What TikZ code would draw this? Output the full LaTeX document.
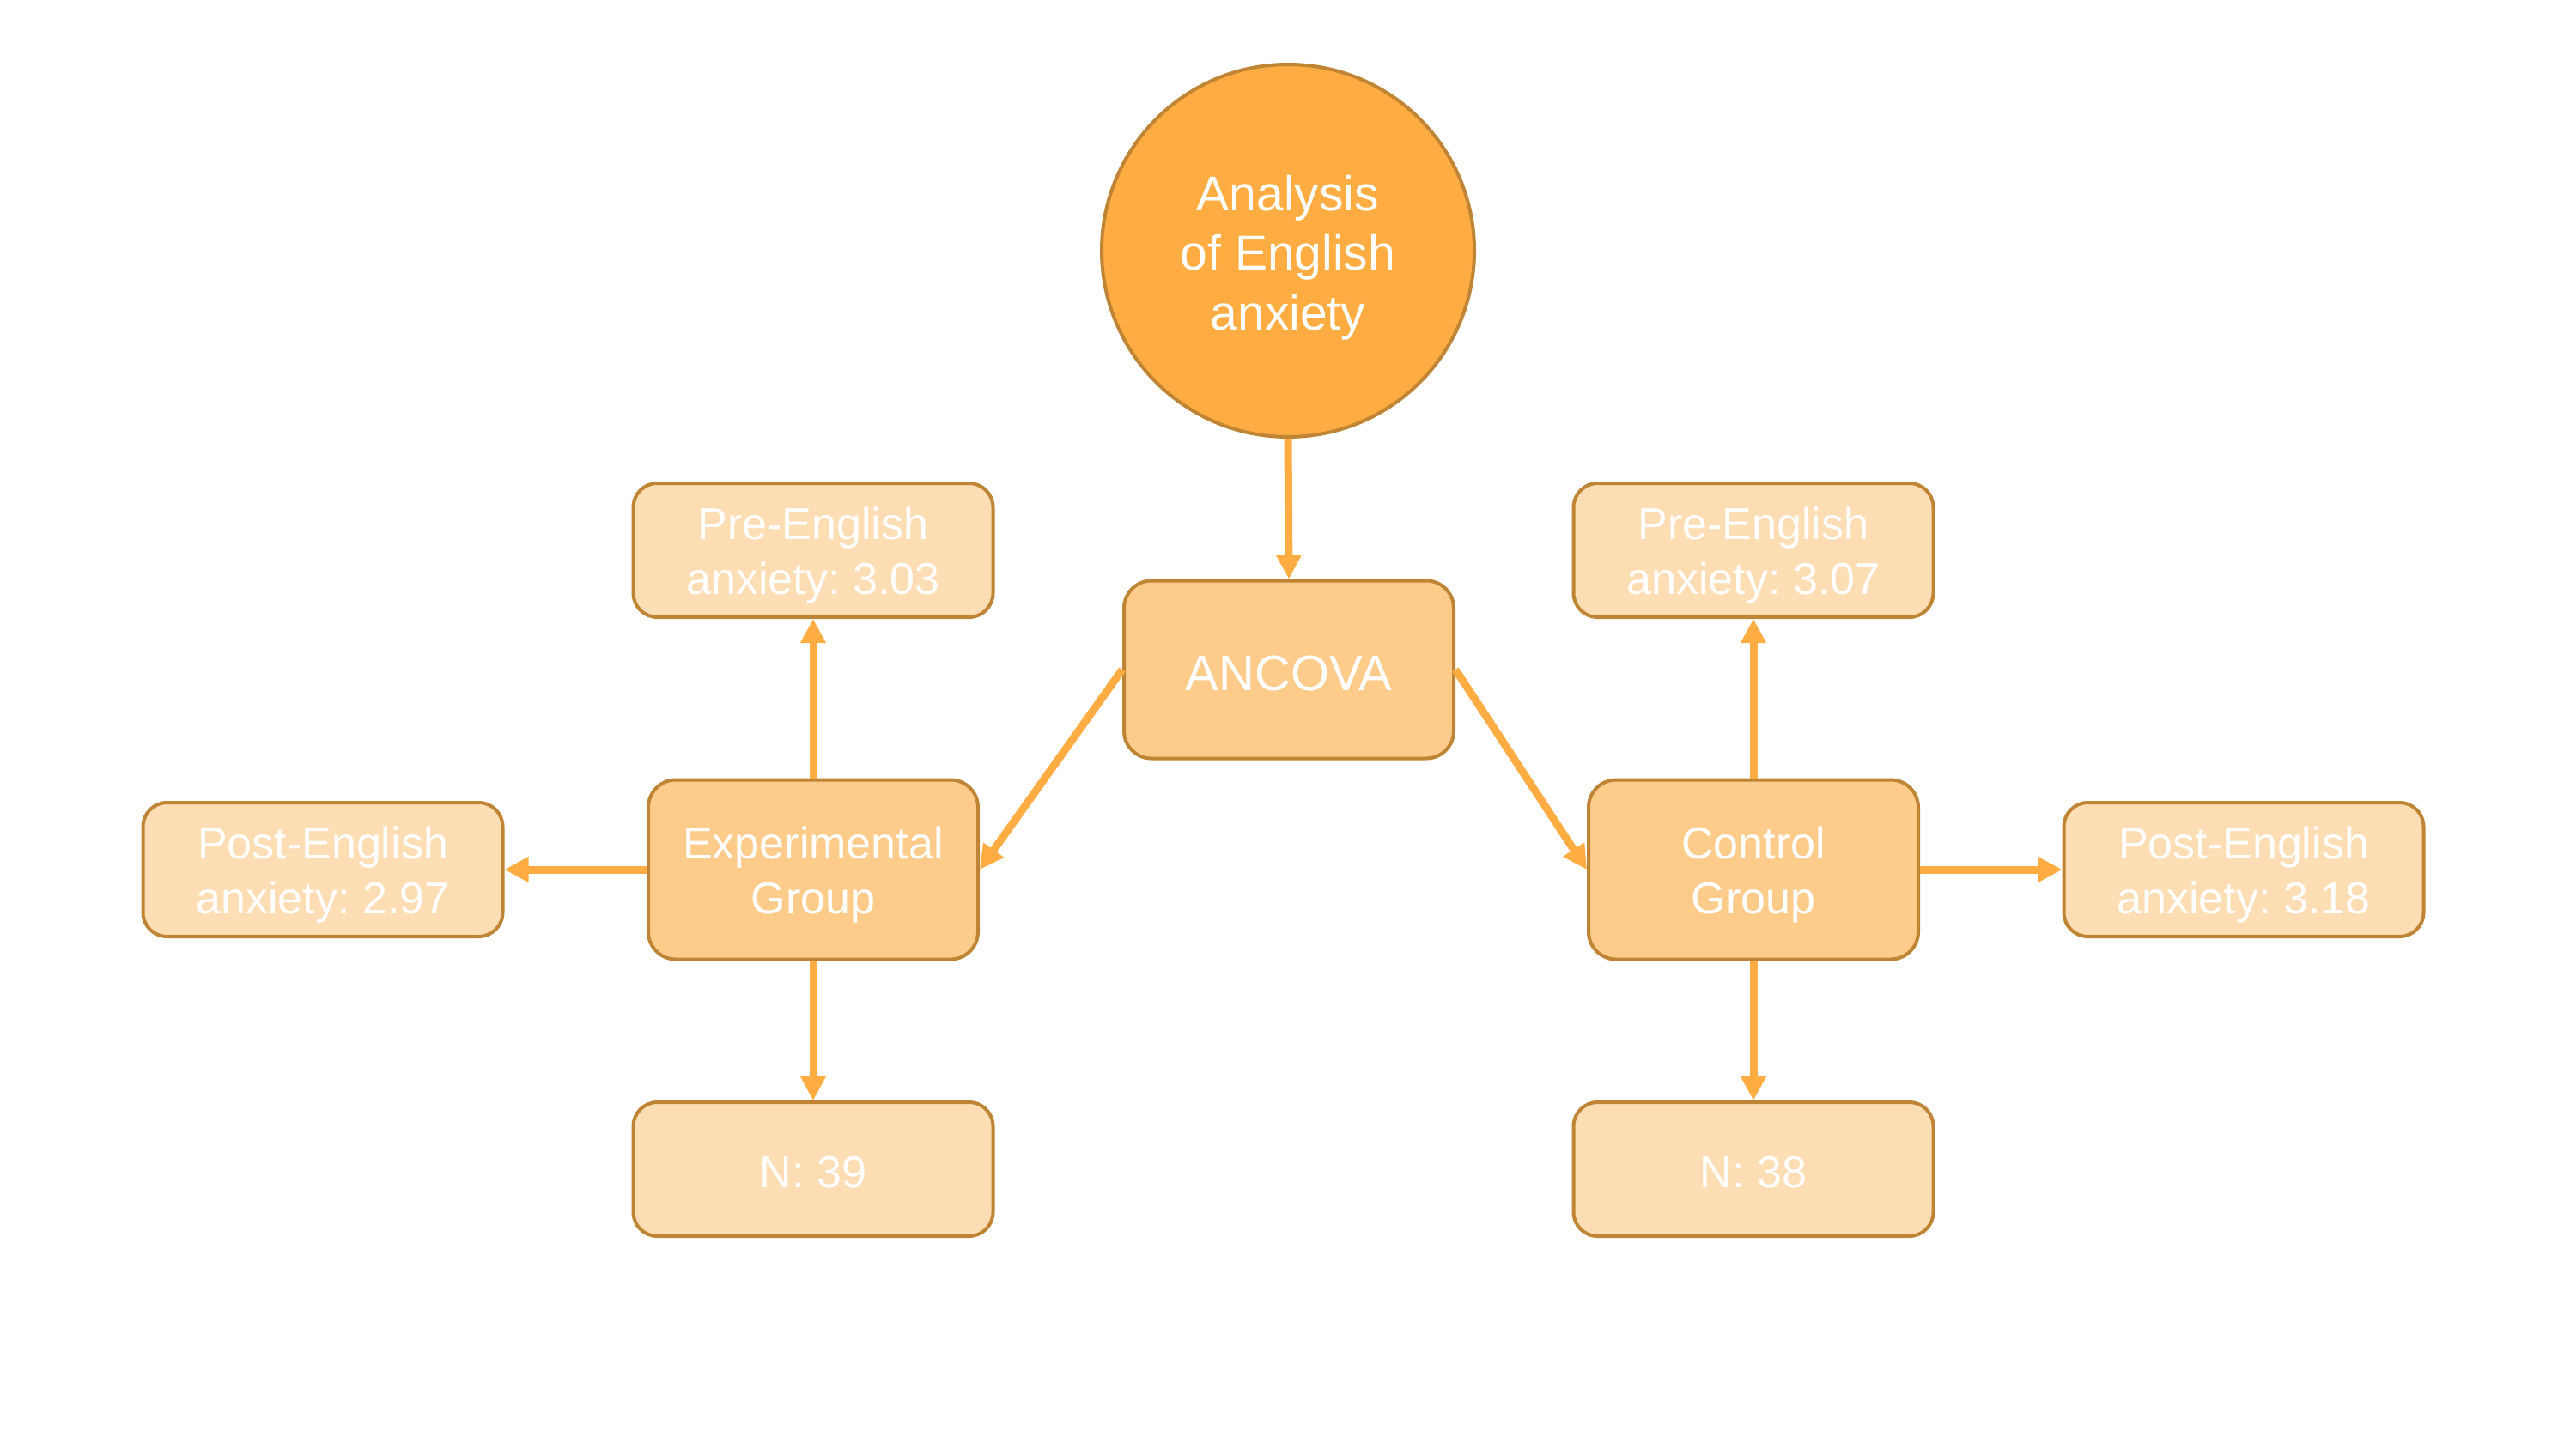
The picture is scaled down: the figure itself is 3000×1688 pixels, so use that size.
\documentclass[tikz,border=0pt]{standalone}
\usepackage{fontspec}
\setmainfont{Liberation Sans}
\usetikzlibrary{arrows.meta}
\definecolor{circfill}{RGB}{255,173,66}
\definecolor{grpfill}{RGB}{253,204,139}
\definecolor{leaffill}{RGB}{253,221,179}
\definecolor{bordercol}{RGB}{191,132,52}
\definecolor{arrcol}{RGB}{255,172,66}
\newcommand{\tstrut}[1]{\rule{0pt}{#1em}}
\tikzset{
  circnode/.style={circle, draw=bordercol, line width=4pt, fill=circfill, minimum size=434pt, inner sep=0pt, text=white, align=center, font=\frenchspacing\fontsize{57}{69.5}\selectfont},
  ancnode/.style={rectangle, rounded corners=32pt, draw=bordercol, line width=4pt, fill=grpfill, minimum width=384pt, minimum height=207pt, inner sep=0pt, text=white, align=center, font=\frenchspacing\fontsize{58}{70}\selectfont},
  grpnode/.style={rectangle, rounded corners=32pt, draw=bordercol, line width=4pt, fill=grpfill, minimum width=384pt, minimum height=209pt, inner sep=0pt, text=white, align=center, font=\frenchspacing\fontsize{52}{64}\selectfont},
  leafnode/.style={rectangle, rounded corners=28pt, draw=bordercol, line width=4pt, fill=leaffill, minimum width=419pt, minimum height=156pt, inner sep=0pt, text=white, align=center, font=\frenchspacing\fontsize{52}{64}\selectfont},
  arr/.style={draw=arrcol, line width=9pt, -{Triangle[length=28pt, width=28pt]}, arrcol}
}
\begin{document}
\begin{tikzpicture}[x=1pt, y=-1pt]
\useasboundingbox (0,0) rectangle (3000,1688);
\fill[white] (0,0) rectangle (3000,1688);
\node[circnode] (top) at (1500,292) {\tstrut{1.0}Analysis\\of English\\anxiety};
\node[ancnode] (anc) at (1501,780) {\rule{0pt}{50pt}ANCOVA};
\node[grpnode] (exp) at (947,1013) {\tstrut{0.95}Experimental\\Group};
\node[grpnode] (ctl) at (2042,1013) {\tstrut{0.95}Control\\Group};
\node[leafnode] (preL) at (947,641) {\tstrut{0.95}Pre-English\\anxiety: 3.03};
\node[leafnode] (postL) at (376,1013) {\tstrut{0.95}Post-English\\anxiety: 2.97};
\node[leafnode] (nL) at (947,1362) {\rule{0pt}{44pt}N: 39};
\node[leafnode] (preR) at (2042,641) {\tstrut{0.95}Pre-English\\anxiety: 3.07};
\node[leafnode] (postR) at (2613,1013) {\tstrut{0.95}Post-English\\anxiety: 3.18};
\node[leafnode] (nR) at (2042,1362) {\rule{0pt}{44pt}N: 38};
\draw[arr] (top.south) -- (anc.north);
\draw[arr] (anc.west) -- (exp.east);
\draw[arr] (anc.east) -- (ctl.west);
\draw[arr] (exp.north) -- (preL.south);
\draw[arr] (exp.west) -- (postL.east);
\draw[arr] (exp.south) -- (nL.north);
\draw[arr] (ctl.north) -- (preR.south);
\draw[arr] (ctl.east) -- (postR.west);
\draw[arr] (ctl.south) -- (nR.north);
\end{tikzpicture}
\end{document}
